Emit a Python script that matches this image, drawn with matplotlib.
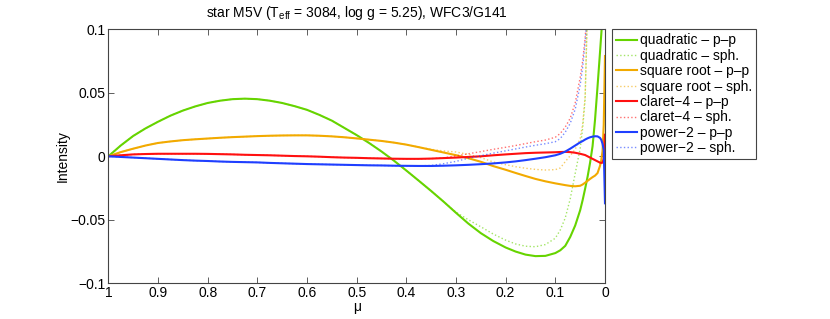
import matplotlib
matplotlib.use("Agg")
import matplotlib.pyplot as plt
import matplotlib.ticker as mticker
import numpy as np

mu = [1.0, 0.975, 0.95, 0.925, 0.9, 0.875, 0.85, 0.825, 0.8, 0.775, 0.75, 0.725,
      0.7, 0.675, 0.65, 0.625, 0.6, 0.575, 0.55, 0.525, 0.5, 0.475, 0.45, 0.425,
      0.4, 0.375, 0.35, 0.325, 0.3, 0.275, 0.25, 0.225, 0.2, 0.18, 0.16, 0.14,
      0.12, 0.1, 0.09, 0.08, 0.07, 0.06, 0.05, 0.045, 0.04, 0.035, 0.03, 0.025,
      0.02, 0.015, 0.01, 0.0075, 0.005, 0.0025, 0.0]

quad_pp = [0.0, 0.0085, 0.016, 0.022, 0.0272, 0.032, 0.036, 0.0393, 0.042, 0.0438,
           0.045, 0.0454, 0.045, 0.0438, 0.042, 0.0395, 0.0366, 0.0326, 0.0281,
           0.0224, 0.0167, 0.0105, 0.0038, -0.0034, -0.0112, -0.0192, -0.0273,
           -0.0357, -0.0445, -0.053, -0.0605, -0.0667, -0.0718, -0.075, -0.0774,
           -0.0786, -0.0784, -0.0762, -0.074, -0.0705, -0.0635, -0.0545, -0.0425,
           -0.0345, -0.0255, -0.016, -0.005, 0.008, 0.029, 0.055, 0.082, 0.096, 0.11,
           0.125, 0.14]
quad_sph = [0.0, 0.0085, 0.016, 0.022, 0.0272, 0.032, 0.036, 0.0393, 0.042, 0.0438,
            0.045, 0.0454, 0.045, 0.0438, 0.042, 0.0395, 0.0366, 0.0326, 0.0281,
            0.0224, 0.0167, 0.0105, 0.0038, -0.0034, -0.0112, -0.0192, -0.0273,
            -0.0357, -0.044, -0.050, -0.0555, -0.0612, -0.066, -0.069, -0.0708,
            -0.0712, -0.0695, -0.0645, -0.058, -0.0485, -0.0335, -0.0135, 0.006,
            0.022, 0.045, 0.12, 0.2, 0.3, 0.4, 0.55, 0.7, 0.8, 0.9, 1.0, 1.2]
sqrt_pp = [0.0, 0.0033, 0.006, 0.0085, 0.0105, 0.0117, 0.0127, 0.0134, 0.014,
           0.0146, 0.0151, 0.0155, 0.0159, 0.0162, 0.0164, 0.0165, 0.0165, 0.0162,
           0.0157, 0.015, 0.0141, 0.0131, 0.0121, 0.0108, 0.0092, 0.0072, 0.0051,
           0.003, 0.0009, -0.0015, -0.0043, -0.0077, -0.0106, -0.0131, -0.0155,
           -0.0178, -0.0197, -0.0213, -0.022, -0.0227, -0.0233, -0.0236, -0.0232,
           -0.0222, -0.0208, -0.0193, -0.0178, -0.0164, -0.0152, -0.0132, -0.0075,
           -0.003, 0.004, 0.025, 0.079]
sqrt_sph = [0.0, 0.0033, 0.006, 0.0085, 0.0105, 0.0117, 0.0127, 0.0134, 0.014,
            0.0146, 0.0151, 0.0155, 0.0159, 0.0162, 0.0164, 0.0165, 0.0165, 0.0162,
            0.0157, 0.015, 0.0141, 0.0131, 0.0121, 0.0108, 0.0092, 0.0073, 0.0055,
            0.0042, 0.0034, 0.0015, -0.001, -0.0045, -0.0066, -0.0082, -0.0094,
            -0.0103, -0.0108, -0.0105, -0.0092, -0.0042, 0.0005, 0.0055, 0.014,
            0.025, 0.047, 0.12, 0.2, 0.3, 0.4, 0.55, 0.7, 0.8, 0.9, 1.0, 1.2]
claret_pp = [0.0, 0.0008, 0.0015, 0.0018, 0.002, 0.002, 0.002, 0.002, 0.0019,
             0.0017, 0.0015, 0.0012, 0.001, 0.0008, 0.0005, 0.0002, 0.0, -0.0003,
             -0.0007, -0.001, -0.0012, -0.0015, -0.0017, -0.0019, -0.002, -0.002,
             -0.0018, -0.0014, -0.001, -0.0005, 0.0, 0.0008, 0.0015, 0.002, 0.0025,
             0.0028, 0.003, 0.0032, 0.0034, 0.0035, 0.0033, 0.0028, 0.002, 0.0015,
             0.001, 0.0, -0.001, -0.002, -0.003, -0.004, -0.005, -0.0052, -0.005,
             -0.002, 0.017]
claret_sph = [0.0, 0.0008, 0.0015, 0.0018, 0.002, 0.002, 0.002, 0.002, 0.0019,
              0.0017, 0.0015, 0.0012, 0.001, 0.0008, 0.0005, 0.0002, 0.0, -0.0003,
              -0.0007, -0.001, -0.0012, -0.0015, -0.0017, -0.0019, -0.002, -0.002,
              -0.0018, -0.0012, 0.0003, 0.002, 0.0037, 0.0055, 0.0071, 0.0085, 0.01,
              0.0115, 0.0128, 0.015, 0.018, 0.023, 0.030, 0.042, 0.062, 0.075, 0.093,
              0.12, 0.16, 0.22, 0.3, 0.4, 0.55, 0.65, 0.8, 1.0, 1.3]
power_pp = [0.0, -0.0005, -0.001, -0.0015, -0.002, -0.0025, -0.003, -0.0034,
            -0.0037, -0.0041, -0.0044, -0.0046, -0.0048, -0.0052, -0.0055, -0.0058,
            -0.0061, -0.0063, -0.0065, -0.0067, -0.0069, -0.0071, -0.0072, -0.0074,
            -0.0075, -0.0076, -0.0076, -0.0074, -0.0071, -0.0067, -0.0062, -0.0056,
            -0.0048, -0.004, -0.003, -0.0019, -0.0007, 0.0008, 0.002, 0.0037, 0.006,
            0.0085, 0.011, 0.012, 0.0132, 0.0142, 0.015, 0.0155, 0.0158, 0.0157,
            0.0145, 0.013, 0.01, 0.005, -0.037]
power_sph = [0.0, -0.0005, -0.001, -0.0015, -0.002, -0.0025, -0.003, -0.0034,
             -0.0037, -0.0041, -0.0044, -0.0046, -0.0048, -0.0052, -0.0055, -0.0058,
             -0.0061, -0.0063, -0.0065, -0.0067, -0.0069, -0.0071, -0.0072, -0.0074,
             -0.0075, -0.0075, -0.0072, -0.0058, -0.004, -0.0015, 0.0005, 0.0025,
             0.0043, 0.0058, 0.0073, 0.0087, 0.0099, 0.0115, 0.014, 0.019, 0.026,
             0.037, 0.056, 0.07, 0.09, 0.115, 0.16, 0.22, 0.3, 0.4, 0.55, 0.65, 0.8,
             1.0, 1.3]

series = [
    ("quadratic \u2013 p\u2013p", quad_pp, "#66D400", "-"),
    ("quadratic \u2013 sph.", quad_sph, "#66D400", ":"),
    ("square root \u2013 p\u2013p", sqrt_pp, "#F2AA00", "-"),
    ("square root \u2013 sph.", sqrt_sph, "#F2AA00", ":"),
    ("claret\u22124 \u2013 p\u2013p", claret_pp, "#FF1010", "-"),
    ("claret\u22124 \u2013 sph.", claret_sph, "#FF1010", ":"),
    ("power\u22122 \u2013 p\u2013p", power_pp, "#1F3FFF", "-"),
    ("power\u22122 \u2013 sph.", power_sph, "#1F3FFF", ":"),
]

plt.rcParams.update({
    "font.family": ["Liberation Sans", "DejaVu Sans"],
    "font.size": 10,
    "mathtext.fontset": "custom",
    "mathtext.rm": "Liberation Sans",
    "mathtext.it": "Liberation Sans:italic",
})

fig = plt.figure(figsize=(8.3, 3.19), dpi=100)
ax = fig.add_axes([0.1305, 0.1119, 0.5984, 0.7962])

for label, vals, color, ls in series:
    if ls == "-":
        ax.plot(mu, vals, ls, color=color, lw=1.5, label=label)
    else:
        ax.plot(mu, vals, ls, color=color, lw=1.0, alpha=0.6, label=label)

ax.set_xlim(1, 0)
ax.set_ylim(-0.1, 0.1)
ax.set_xticks(np.arange(0, 1.01, 0.1))
ax.set_yticks([-0.1, -0.05, 0, 0.05, 0.1])
fmt = mticker.FuncFormatter(lambda v, p: ("%g" % round(v, 3)).replace("-", "\u2212"))
ax.xaxis.set_major_formatter(fmt)
ax.yaxis.set_major_formatter(fmt)
ax.tick_params(direction="in", length=4, width=0.6, color="#444444",
               top=True, right=True, labelsize=10, pad=2)
for s in ax.spines.values():
    s.set_color("#444444")
    s.set_linewidth(0.8)

ax.set_xlabel("\u03bc", labelpad=0)
ax.set_ylabel("Intensity", labelpad=0.5)
ax.set_title("star M5V (T$_\\mathrm{eff}$ = 3084, log g = 5.25), WFC3/G141",
             fontsize=10, pad=9)

leg = ax.legend(loc="upper left", bbox_to_anchor=(1.0147, 1.0), borderaxespad=0,
                fancybox=False, framealpha=1, edgecolor="#444444",
                handlelength=1.45, handletextpad=0.25, borderpad=0.3,
                labelspacing=0.1, fontsize=10)
leg.get_frame().set_linewidth(0.8)

fig.savefig("out.png", dpi=100)
